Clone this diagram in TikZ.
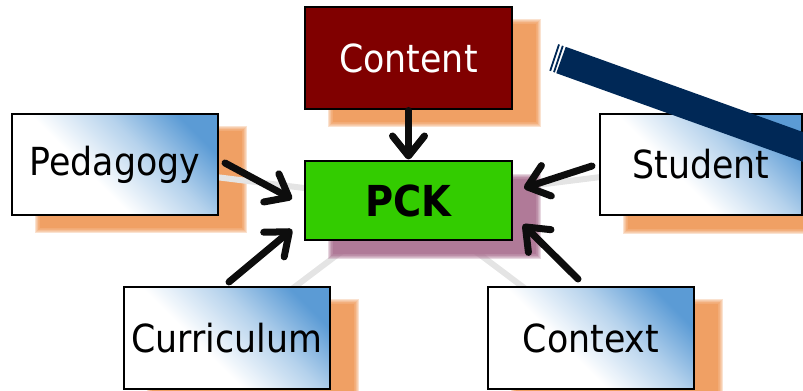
\documentclass[tikz,border=0pt]{standalone}
\usepackage{fontspec}
\setmainfont{DejaVu Sans Condensed}
\usetikzlibrary{arrows.meta,calc}
\definecolor{contentred}{HTML}{800000}
\definecolor{pckgreen}{HTML}{33CC00}
\definecolor{boxblue}{HTML}{5B9BD5}
\definecolor{shadoworange}{HTML}{F0A064}
\definecolor{shadowpurple}{HTML}{B07A98}
\definecolor{barnavy}{HTML}{002856}
\definecolor{linkgrey}{HTML}{E4E4E4}
\pgfdeclareverticalshading{boxgrad}{100bp}{color(0bp)=(white); color(42bp)=(white); color(60bp)=(boxblue!45); color(76bp)=(boxblue); color(100bp)=(boxblue)}
\newcommand\blurrect[5]{%
  \fill[#5] (#1+2,#2+2) rectangle (#3-2,#4-2);
  \foreach \k in {0,1,...,6}{\fill[#5,opacity=0.3] (#1+2-\k*0.8,#2+2-\k*0.8) rectangle (#3-2+\k*0.8,#4-2+\k*0.8);}
}
\begin{document}
\begin{tikzpicture}[x=0.75pt,y=-0.75pt,
  labeltext/.style={font=\fontsize{29}{34}\selectfont},
  whitebox/.style={draw=black, line width=1.5pt, shading=boxgrad, shading angle=-45,
    minimum width=154.5pt, minimum height=75.75pt, inner sep=0pt, labeltext},
  contentbox/.style={draw=black, line width=1.5pt, fill=contentred, text=white,
    minimum width=155.25pt, minimum height=76.5pt, inner sep=0pt, labeltext},
  pckbox/.style={draw=black, line width=1.5pt, fill=pckgreen,
    minimum width=155.25pt, minimum height=59.25pt, inner sep=0pt,
    font=\bfseries\fontsize{32}{38}\selectfont},
  link/.style={draw=linkgrey, line width=4.5pt},
  feed/.style={draw=black!95, line width=5.25pt, line cap=round,
    -{Straight Barb[length=15pt,width=24pt,round]}}
]
\useasboundingbox (0,0) rectangle (803,391);
% shadows (orange)
\blurrect{331}{22}{538}{124}{shadoworange}
\blurrect{38}{129}{244}{230}{shadoworange}
\blurrect{626}{129}{840}{231}{shadoworange}
\blurrect{150}{302}{356}{404}{shadoworange}
\blurrect{514}{302}{720}{404}{shadoworange}
% node placement (coordinates for links drawn underneath)
\coordinate (cpck) at (408.5,201);
\coordinate (cped) at (115,164.5);
\coordinate (cstu) at (701,164.5);
\coordinate (ccur) at (227,338);
\coordinate (ccon) at (591,338);
\draw[link] (cped) -- (cpck);
\draw[link] (cstu) -- (cpck);
\draw[link] (ccur) -- (cpck);
\draw[link] (ccon) -- (cpck);
% purple shadow for PCK
\blurrect{331}{177}{538}{256}{shadowpurple}
% boxes
\node[contentbox] (content) at (408.5,58.5) {Content};
\node[pckbox] (pck) at (cpck) {PCK};
\node[whitebox] (ped) at (cped) {Pedagogy};
\node[whitebox, minimum width=151.5pt] (stu) at (cstu) {Student};
\node[whitebox, minimum height=76.5pt] (cur) at (ccur) {Curriculum};
\node[whitebox, minimum height=76.5pt] (con) at (ccon) {Context};
% arrows
\draw[feed] (content.south) -- ($(pck.north)+(0,-1)$);
\draw[feed] ($(ped.east)+(6,-1.5)$) -- ($(pck.west)+(-12,-2)$);
\draw[feed] ($(stu.west)+(-7,1.5)$) -- ($(pck.east)+(11,-13)$);
\draw[feed] ($(cur.north)+(2,-4)$) -- ($(pck.south west)+(-12,-12)$);
\draw[feed] ($(con.north)+(-13,-7)$) -- ($(pck.south east)+(10,-17)$);
% navy bar
\coordinate (barstart) at (561,60);
\coordinate (barend) at (870,171);
\draw[barnavy, line width=21pt] (barstart) -- (barend);
\coordinate (s1) at ($(barstart)+(-2.6,-0.95)$);
\coordinate (s2) at ($(barstart)+(-6.4,-2.3)$);
\draw[barnavy, line width=1.4pt] ($(s1)+(4.4,-13.2)$) -- ($(s1)+(-4.4,13.2)$);
\draw[barnavy, line width=1.4pt] ($(s2)+(4.4,-13.2)$) -- ($(s2)+(-4.4,13.2)$);
\end{tikzpicture}
\end{document}
